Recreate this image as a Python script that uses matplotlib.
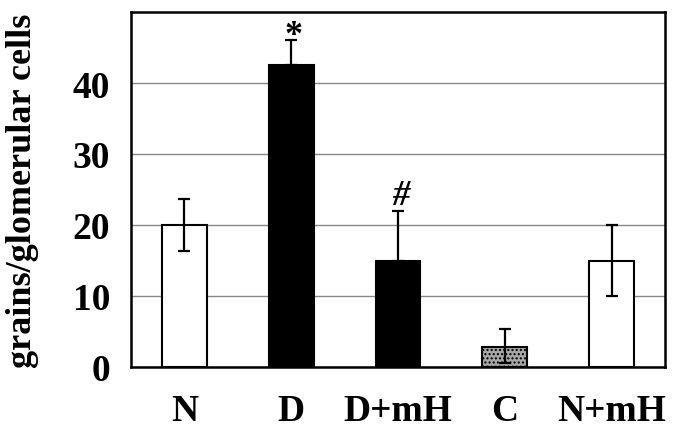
import matplotlib
matplotlib.use("Agg")
import matplotlib.pyplot as plt
import numpy as np

categories = ["N", "D", "D+mH", "C", "N+mH"]
values = [20.0, 42.5, 15.0, 2.8, 15.0]
err_upper = [3.6, 3.6, 7.0, 2.6, 5.0]
err_lower = [3.6, 0.0, 0.0, 2.2, 5.0]
face_colors = ["white", "black", "black", "#a8a8a8", "white"]
annotations = {1: "*", 2: "#"}
yticks = [0, 10, 20, 30, 40]

plt.rcParams["font.family"] = ["Liberation Serif", "DejaVu Serif"]
plt.rcParams["font.weight"] = "bold"

fig = plt.figure(figsize=(6.77, 4.35), dpi=100)
ax = fig.add_axes([131/677, 1 - 368/435, (665-131)/677, (368-13)/435])

x = np.arange(len(categories))
bars = ax.bar(x, values, width=0.42, color=face_colors, edgecolor="black",
              linewidth=1.5, zorder=3)
bars[3].set_hatch("....")
ax.errorbar(x, values, yerr=[err_lower, err_upper], fmt="none", ecolor="black",
            elinewidth=1.6, capsize=4, capthick=1.6, zorder=4)

ann_style = {"*": dict(fontsize=26, offset=-3, style="normal"),
             "#": dict(fontsize=25, offset=5, style="italic")}
for i, s in annotations.items():
    top = values[i] + err_upper[i]
    st = ann_style[s]
    ax.annotate(s, (x[i], top), xytext=(2, st["offset"]), textcoords="offset points",
                ha="center", va="baseline", fontsize=st["fontsize"],
                fontweight="bold", fontstyle=st["style"], annotation_clip=False)

ax.set_xlim(-0.5, len(categories) - 0.5)
ax.set_ylim(0, 50)
ax.set_yticks(yticks)
ax.set_yticklabels([str(t) for t in yticks], fontsize=27, fontweight="bold")
ax.set_xticks(x)
ax.set_xticklabels(categories, fontsize=27, fontweight="bold")
ax.tick_params(axis="x", length=0, pad=19)
ax.tick_params(axis="y", length=0, pad=15)
ax.yaxis.grid(True, color="#888888", linewidth=1.0, zorder=0)
ax.set_axisbelow(True)
for sp in ax.spines.values():
    sp.set_linewidth(1.8)
    sp.set_color("black")

ax.set_ylabel("grains/glomerular cells", fontsize=26, fontweight="bold")
ax.yaxis.set_label_coords(-0.172, 0.5)

fig.savefig("out.png", dpi=100)
